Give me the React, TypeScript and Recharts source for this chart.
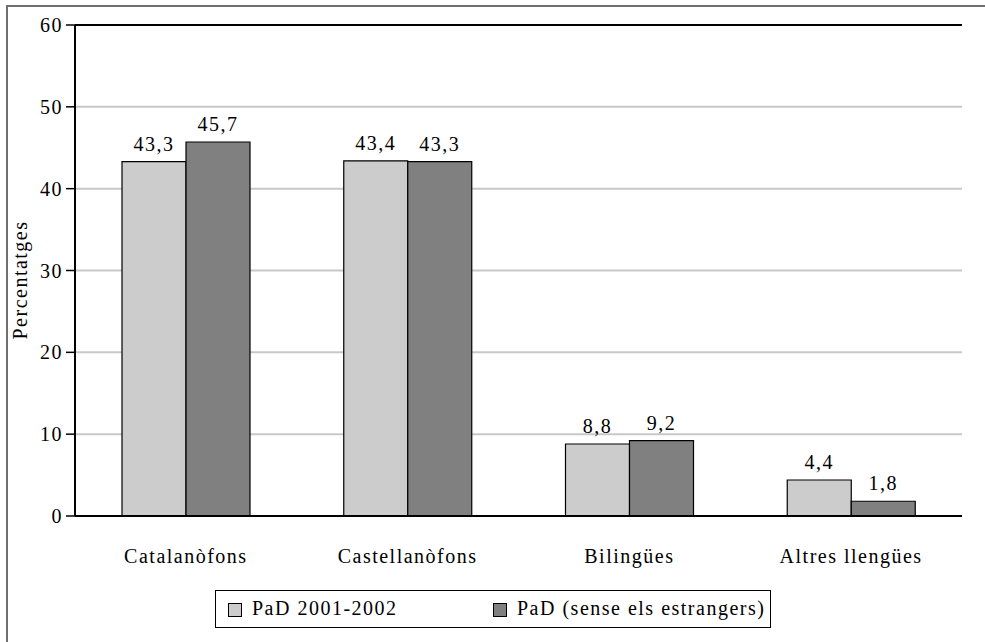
import {
  BarChart,
  Bar,
  XAxis,
  YAxis,
  CartesianGrid,
  ReferenceLine,
  LabelList,
} from "recharts";

const categories = ["Catalanòfons", "Castellanòfons", "Bilingües", "Altres llengües"];
const pad2001 = [43.3, 43.4, 8.8, 4.4];
const padSense = [45.7, 43.3, 9.2, 1.8];
const yTicks = [0, 10, 20, 30, 40, 50, 60];
const edgeTicks = [0, 1, 2, 3, 4];

const series = [
  { key: "pad2001", name: "PaD 2001-2002", color: "#cccccc" },
  { key: "padSense", name: "PaD (sense els estrangers)", color: "#808080" },
];

const FONT = "Liberation Serif, DejaVu Serif, serif";
const textStyle = { fontFamily: FONT, fontSize: 20, fill: "#000", letterSpacing: 1.5 };

const data = categories.map((name, i) => ({
  name,
  pad2001: pad2001[i],
  padSense: padSense[i],
}));

const fmt = (v: number) => v.toFixed(1).replace(".", ",");

// legend item x positions (square left edges) inside the box
const legendX = [12, 277];

export default function App() {
  return (
    <div
      style={{
        position: "absolute",
        left: 0,
        top: 0,
        width: 985,
        height: 642,
        background: "#fff",
        overflow: "hidden",
        fontFamily: FONT,
      }}
    >
      <div
        style={{
          position: "absolute",
          left: 6,
          top: 5,
          width: 1200,
          height: 900,
          borderLeft: "2px solid #707070",
          borderTop: "2px solid #707070",
        }}
      />
      <BarChart
        width={985}
        height={642}
        data={data}
        margin={{ top: 25, right: 23, left: 0, bottom: 66 }}
        barCategoryGap={47}
        barGap={0}
        style={{ position: "absolute", left: 0, top: 0, fontFamily: FONT }}
      >
        <CartesianGrid vertical={false} stroke="#c8c8c8" strokeWidth={2} />
        <XAxis
          xAxisId="edges"
          type="number"
          domain={[0, 4]}
          ticks={edgeTicks}
          allowDataOverflow
          height={0}
          axisLine={false}
          tickSize={7}
          tickLine={{ stroke: "#000", strokeWidth: 1.5 }}
          tickFormatter={() => ""}
        />
        <XAxis
          dataKey="name"
          height={60}
          axisLine={{ stroke: "#000", strokeWidth: 2 }}
          tickLine={false}
          tickSize={0}
          tickMargin={33}
          tick={textStyle}
          interval={0}
        />
        <YAxis
          domain={[0, 60]}
          ticks={yTicks}
          width={75}
          axisLine={{ stroke: "#000", strokeWidth: 2 }}
          tickLine={{ stroke: "#000", strokeWidth: 1.5 }}
          tickSize={9}
          tickMargin={3}
          tick={textStyle}
          label={{
            content: () => (
              <text
                x={27}
                y={280}
                transform="rotate(-90 27 280)"
                textAnchor="middle"
                fontFamily={FONT}
                fontSize={20}
                letterSpacing={1.5}
                fill="#000"
              >
                Percentatges
              </text>
            ),
          }}
        />
        <YAxis
          yAxisId="right"
          orientation="right"
          domain={[0, 60]}
          allowDataOverflow
          width={0}
          tick={false}
          tickLine={false}
          axisLine={{ stroke: "#000", strokeWidth: 2 }}
        />
        <ReferenceLine y={60} stroke="#000" strokeWidth={2} xAxisId={0} />
        {series.map((s) => (
          <Bar
            key={s.key}
            dataKey={s.key}
            name={s.name}
            fill={s.color}
            stroke="#000"
            strokeWidth={1.2}
            isAnimationActive={false}
          >
            <LabelList
              dataKey={s.key}
              position="top"
              offset={11}
              formatter={(v: number) => fmt(v)}
              fontFamily={FONT}
              fontSize={20}
              letterSpacing={1.5}
              fill="#000"
            />
          </Bar>
        ))}
      </BarChart>
      <div
        style={{
          position: "absolute",
          left: 215,
          top: 590,
          width: 556,
          height: 38,
          border: "1.5px solid #000",
          boxSizing: "border-box",
        }}
      >
        {series.map((s, i) => (
          <div key={s.key}>
            <div
              style={{
                position: "absolute",
                left: legendX[i],
                top: 12,
                width: 14,
                height: 14,
                boxSizing: "border-box",
                background: s.color,
                border: "1px solid #000",
              }}
            />
            <span
              style={{
                position: "absolute",
                left: legendX[i] + 24,
                top: 5,
                fontSize: 20,
                lineHeight: "24px",
                letterSpacing: 1.5,
                whiteSpace: "nowrap",
                color: "#000",
              }}
            >
              {s.name}
            </span>
          </div>
        ))}
      </div>
    </div>
  );
}
